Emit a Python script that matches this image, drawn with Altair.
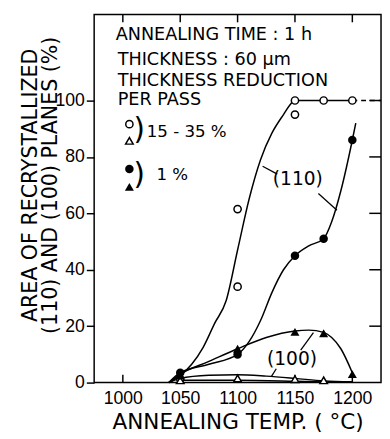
import altair as alt
import pandas as pd

FONT = "DejaVu Sans"
TICKFONT = "Liberation Sans"

# ---- measured points ----
oc_temp = [1050, 1100, 1100, 1150, 1150, 1175, 1200]      # open circles (110), 15-35 %
oc_val = [1.3, 61.5, 34, 100, 95, 100, 100]
ot_temp = [1050, 1100, 1150, 1175]                         # open triangles (100), 15-35 %
ot_val = [0.8, 1.5, 1.2, 0.8]
fc_temp = [1050, 1100, 1150, 1175, 1200]                   # filled circles (110), 1 %
fc_val = [3.5, 10, 45, 51, 86]
ft_temp = [1050, 1100, 1150, 1175, 1200]                   # filled triangles (100), 1 %
ft_val = [2.5, 12, 18, 17.5, 3]

# ---- hand-drawn curves ----
c_oc_t = [1040, 1050, 1060, 1070, 1080, 1090, 1100, 1110, 1120, 1130, 1140, 1148, 1150, 1175, 1200]
c_oc_v = [0, 2.5, 6.5, 12.5, 21, 29, 47, 65, 79, 88.5, 95, 99.5, 100, 100, 100]
c_fc_t = [1040, 1050, 1075, 1100, 1110, 1120, 1130, 1140, 1150, 1162, 1175, 1182, 1190, 1200, 1203]
c_fc_v = [0, 3.5, 6.5, 10, 14.5, 22, 32, 40, 45, 48.5, 51, 57, 68, 86, 92]
c_ft_t = [1040, 1050, 1075, 1100, 1125, 1150, 1162, 1175, 1182, 1190, 1200]
c_ft_v = [0, 3, 7.5, 12, 16, 18.3, 18.6, 17.8, 16, 12, 3.5]
c_ot_t = [1040, 1050, 1075, 1100, 1125, 1150, 1175, 1200]
c_ot_v = [0, 1.5, 2.6, 2.8, 2.3, 1.5, 0.6, 0.3]
c_low_t = [1050, 1100, 1150, 1175]
c_low_v = [0.8, 0.8, 0.5, 0.3]
c_dash_t = [1200, 1225]
c_dash_v = [100, 100]

x_ticks = [1000, 1050, 1100, 1150, 1200]
y_ticks = [0, 20, 40, 60, 80, 100]

# ---- annotation text ----
info_text = ["ANNEALING TIME : 1 h", "THICKNESS : 60 µm", "THICKNESS REDUCTION", "PER PASS"]
info_t = [993.8, 995.5, 995.5, 995.5]
info_v = [123.2, 114.5, 106.9, 100.3]

leg_text = ["15 - 35 %", "1 %"]
leg_t = [1020.8, 1029.3]
leg_v = [88.9, 73.5]
brk_t = [1014.2, 1014.2]
brk_v = [89.5, 73.4]
leg_oc = (1005.7, 91.6)
leg_ot = (1005.7, 85.7)
leg_fc = (1005.7, 75.7)
leg_ft = (1005.7, 69.4)

plane_text = ["(110)", "(100)"]
plane_t = [1152.5, 1147.4]
plane_v = [72.0, 8.3]

lead_t = [1134.6, 1170.4, 1155.0, 1133.7]
lead_t2 = [1121.8, 1186.6, 1166.1, 1129.4]
lead_v = [73.9, 67.0, 11.5, 4.9]
lead_v2 = [76.7, 61.1, 17.7, 2.1]

# ---- tables ----
curves = pd.concat([
    pd.DataFrame({"t": c_oc_t, "v": c_oc_v, "s": "oc"}),
    pd.DataFrame({"t": c_fc_t, "v": c_fc_v, "s": "fc"}),
    pd.DataFrame({"t": c_ft_t, "v": c_ft_v, "s": "ft"}),
    pd.DataFrame({"t": c_ot_t, "v": c_ot_v, "s": "ot"}),
    pd.DataFrame({"t": c_low_t, "v": c_low_v, "s": "low"}),
])
dash = pd.DataFrame({"t": c_dash_t, "v": c_dash_v})
oc = pd.DataFrame({"t": oc_temp + [leg_oc[0]], "v": oc_val + [leg_oc[1]]})
ot = pd.DataFrame({"t": ot_temp + [leg_ot[0]], "v": ot_val + [leg_ot[1]]})
fc = pd.DataFrame({"t": fc_temp + [leg_fc[0]], "v": fc_val + [leg_fc[1]]})
ft = pd.DataFrame({"t": ft_temp + [leg_ft[0]], "v": ft_val + [leg_ft[1]]})
info = pd.DataFrame({"t": info_t, "v": info_v, "label": info_text})
leg = pd.DataFrame({"t": leg_t, "v": leg_v, "label": leg_text})
brk = pd.DataFrame({"t": brk_t, "v": brk_v, "label": [")", ")"]})
planes = pd.DataFrame({"t": plane_t, "v": plane_v, "label": plane_text})
leads = pd.DataFrame({"t": lead_t, "t2": lead_t2, "v": lead_v, "v2": lead_v2})
xt = pd.DataFrame({"t": x_ticks})
yt = pd.DataFrame({"v": [20, 40, 60, 80, 100]})

W, H = 293, 376

X = alt.X("t:Q", scale=alt.Scale(domain=[975, 1225], nice=False, zero=False),
          axis=alt.Axis(values=x_ticks, title="ANNEALING TEMP. ( °C)", tickSize=0, domain=False,
                        grid=False, labelFontSize=18, labelPadding=7, labelFont=TICKFONT,
                        titleFontSize=22, titleFontWeight="normal", titlePadding=5, format="d"))
Y = alt.Y("v:Q", scale=alt.Scale(domain=[0, 130.5], nice=False),
          axis=alt.Axis(values=y_ticks, title=["AREA OF RECRYSTALLIZED", "(110) AND (100) PLANES (%)"],
                        tickSize=8, tickWidth=1.5, tickColor="black", domain=False, grid=False,
                        labelFontSize=18, labelPadding=2, labelFont=TICKFONT,
                        titleFontSize=21, titleFontWeight="normal", titleAngle=270,
                        titleAlign="center", titleBaseline="middle", titleX=-65, titleY=174,
                        titleLineHeight=21))

base_lines = alt.Chart(curves).mark_line(interpolate="monotone", color="black", strokeWidth=1.5).encode(
    x=X, y=Y, detail="s:N")
dash_line = alt.Chart(dash).mark_line(color="black", strokeWidth=1.5, strokeDash=[5, 4]).encode(x="t:Q", y="v:Q")

p_oc = alt.Chart(oc).mark_point(shape="circle", filled=True, fill="white", stroke="black",
                                strokeWidth=1.5, size=55, opacity=1).encode(x="t:Q", y="v:Q")
p_ot = alt.Chart(ot).mark_point(shape="triangle-up", filled=True, fill="white", stroke="black",
                                strokeWidth=1.5, size=60, opacity=1).encode(x="t:Q", y="v:Q")
p_fc = alt.Chart(fc).mark_point(shape="circle", filled=True, color="black", size=75, opacity=1).encode(
    x="t:Q", y="v:Q")
p_ft = alt.Chart(ft).mark_point(shape="triangle-up", filled=True, color="black", size=85, opacity=1).encode(
    x="t:Q", y="v:Q")

lead_rules = alt.Chart(leads).mark_rule(color="black", strokeWidth=1.3).encode(
    x="t:Q", x2="t2:Q", y="v:Q", y2="v2:Q")

t_info = alt.Chart(info).mark_text(align="left", baseline="middle", font=FONT, fontSize=18,
                                   color="black").encode(x="t:Q", y="v:Q", text="label:N")
t_leg = alt.Chart(leg).mark_text(align="left", baseline="middle", font=FONT, fontSize=17,
                                 color="black").encode(x="t:Q", y="v:Q", text="label:N")
t_brk = alt.Chart(brk).mark_text(align="center", baseline="middle", font=FONT, fontSize=30,
                                 color="black").encode(x="t:Q", y="v:Q", text="label:N")
t_planes = alt.Chart(planes).mark_text(align="center", baseline="middle", font=FONT, fontSize=19,
                                       color="black").encode(x="t:Q", y="v:Q", text="label:N")

top_ticks = alt.Chart(xt).mark_rule(color="black", strokeWidth=1.5).encode(
    x="t:Q", y=alt.value(0), y2=alt.value(8))
bot_ticks = alt.Chart(xt).mark_rule(color="black", strokeWidth=1.5).encode(
    x="t:Q", y=alt.value(H), y2=alt.value(H - 8))
right_ticks = alt.Chart(yt).mark_rule(color="black", strokeWidth=1.5).encode(
    y="v:Q", x=alt.value(W), x2=alt.value(W - 12))

chart = alt.layer(
    base_lines, dash_line, lead_rules, top_ticks, bot_ticks, right_ticks,
    p_oc, p_ot, p_fc, p_ft, t_info, t_leg, t_brk, t_planes
).properties(
    width=W, height=H,
    autosize=alt.AutoSizeParams(type="none"),
    padding={"left": 88, "top": 2, "right": 1, "bottom": 53},
).configure_view(stroke="black", strokeWidth=1.5).configure_axis(
    labelColor="black", titleColor="black", titleFont=FONT, titleFontWeight="normal"
)

chart.save("out.html", embed_options={"renderer": "svg", "actions": False})
